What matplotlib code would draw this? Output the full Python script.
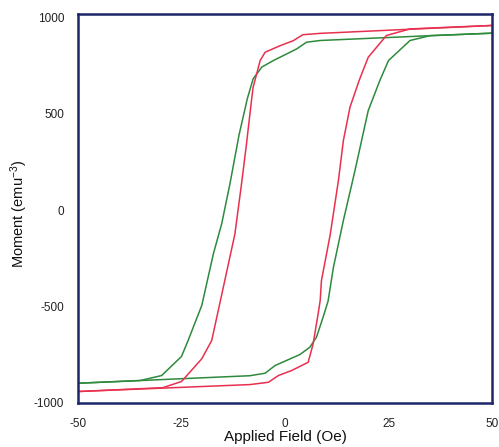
import matplotlib
matplotlib.use("Agg")
import matplotlib.pyplot as plt

plt.rcParams['font.family'] = ['Liberation Sans', 'DejaVu Sans']
plt.rcParams['mathtext.fontset'] = 'custom'
plt.rcParams['mathtext.rm'] = 'Liberation Sans'
plt.rcParams['mathtext.it'] = 'Liberation Sans'
plt.rcParams['axes.unicode_minus'] = False

# Red loop: descending branch (from +50 to -50) then ascending branch (from -50 to +50)
red_down_x = [50, 8.5, 4.3, 2.0, -1.2, -4.8, -6.0, -7.7, -8.1, -9.3, -10.5, -12.1, -14.9, -17.7, -20.1, -25.0, -29.5, -50]
red_down_y = [958, 917, 910, 879, 853, 819, 776, 637, 568, 344, 136, -124, -401, -677, -772, -890, -922, -942]
red_up_x = [-50, -8.5, -4.0, -1.6, 1.6, 5.6, 6.8, 7.6, 8.0, 8.5, 8.8, 10.9, 12.9, 14.1, 15.7, 17.9, 20.1, 24.5, 30.2, 50]
red_up_y = [-942, -906, -894, -859, -833, -790, -694, -590, -539, -469, -366, -130, 153, 361, 534, 672, 793, 906, 940, 958]

# Green loop
green_down_x = [50, 35, 8.5, 5.2, 2.8, -2.8, -5.6, -7.7, -9.1, -11.1, -13.3, -15.3, -17.3, -20.1, -23.4, -25.0, -29.8, -35, -50]
green_down_y = [918, 905, 880, 871, 836, 776, 742, 681, 578, 390, 136, -72, -227, -495, -677, -760, -859, -885, -899]
green_up_x = [-50, -8.5, -4.8, -2.4, 3.6, 6.0, 7.6, 9.2, 10.4, 11.7, 14.1, 16.9, 20.1, 22.9, 25.0, 30.2, 35, 50]
green_up_y = [-899, -860, -847, -807, -750, -712, -660, -556, -473, -297, -54, 205, 516, 672, 776, 880, 905, 918]

x_ticks = [-50, -25, 0, 25, 50]
y_ticks = [-1000, -500, 0, 500, 1000]

red = '#e8304f'
green = '#2e8a3c'
frame = '#1c2668'

fig = plt.figure(figsize=(4.99, 4.47), dpi=100)
ax = fig.add_axes([0.1563, 0.0991, 0.986 - 0.1563, 0.9676 - 0.0991])

ax.plot(green_down_x, green_down_y, color=green, lw=1.1)
ax.plot(green_up_x, green_up_y, color=green, lw=1.1)
ax.plot(red_down_x, red_down_y, color=red, lw=1.1)
ax.plot(red_up_x, red_up_y, color=red, lw=1.1)

ax.set_xlim(-50, 50)
ax.set_ylim(-1000, 1015)
ax.set_xticks(x_ticks)
ax.set_yticks(y_ticks)
ax.tick_params(length=0, labelsize=8.5, colors='#222222')
ax.tick_params(axis='x', pad=11)
ax.tick_params(axis='y', pad=10)

for s in ax.spines.values():
    s.set_color(frame)
    s.set_linewidth(1.8)

ax.set_xlabel('Applied Field (Oe)', fontsize=11, color='#111111')
ax.xaxis.set_label_coords(0.5, -0.07)
ax.set_ylabel('Moment (emu$^{-3}$)', fontsize=10.5, color='#111111')
ax.yaxis.set_label_coords(-0.117, 0.487)

fig.savefig('out.png', dpi=100)
